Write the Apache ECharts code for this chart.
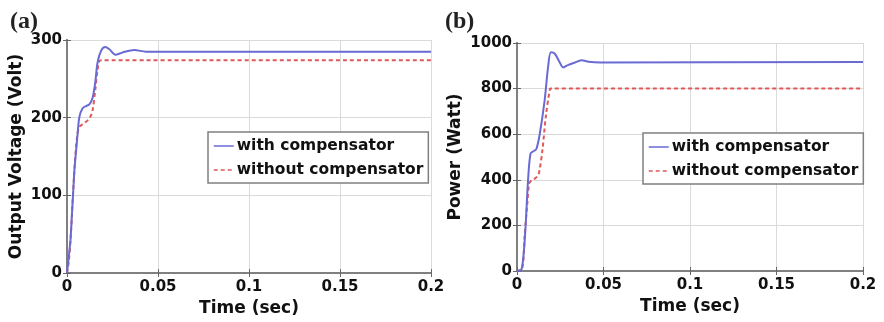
<!DOCTYPE html>
<html>
<head>
<meta charset="utf-8">
<script src="https://cdn.jsdelivr.net/npm/echarts@6/dist/echarts.min.js"></script>
<style>
  html, body { margin: 0; padding: 0; background: #fff; }
  #chart { width: 884px; height: 322px; }
</style>
</head>
<body>
<div id="chart"></div>
<script>
// panel (a): output voltage
const timeWithA = [0, 0.001, 0.002, 0.004, 0.0055, 0.0068, 0.0086, 0.0105, 0.0123, 0.0141, 0.0155, 0.0168, 0.0187, 0.021, 0.0233, 0.0266, 0.0306, 0.037, 0.0434, 0.054, 0.2];
const voltWithA = [0, 22, 45, 130, 170, 201, 212, 215, 217, 226, 245, 271, 286, 291, 288, 281, 284, 287, 285, 285, 285];
const timeWithoutA = [0, 0.001, 0.002, 0.004, 0.0055, 0.0068, 0.0095, 0.0123, 0.014, 0.0155, 0.0168, 0.0187, 0.2];
const voltWithoutA = [0, 15, 45, 130, 175, 188, 193, 199, 209, 235, 261, 274, 274];

// panel (b): power
const timeWithB = [0, 0.0025, 0.004, 0.005, 0.0064, 0.0078, 0.0095, 0.0112, 0.0132, 0.016, 0.018, 0.0196, 0.0219, 0.0244, 0.0267, 0.0297, 0.0326, 0.0374, 0.0413, 0.048, 0.2];
const powerWithB = [0, 5, 90, 200, 400, 515, 525, 535, 603, 750, 897, 959, 953, 919, 893, 904, 912, 924, 918, 915, 917];
const timeWithoutB = [0, 0.003, 0.0045, 0.006, 0.007, 0.0085, 0.0103, 0.0122, 0.013, 0.0147, 0.0167, 0.019, 0.0197, 0.2];
const powerWithoutB = [0, 10, 164, 300, 383, 398, 405, 420, 440, 530, 680, 797, 800, 800];

const seriesNames = ['with compensator', 'without compensator'];
const xTicks = [0, 0.05, 0.1, 0.15, 0.2];

const pairs = (xs, ys) => xs.map((x, i) => [x, ys[i]]);

const font = 'DejaVu Sans';
const boxColor = '#808080';
const blue = '#6a6ad4';
const red = '#e05858';

const bottomAxis = (gridIndex, name) => ({
  type: 'value',
  gridIndex,
  min: xTicks[0],
  max: xTicks[xTicks.length - 1],
  interval: 0.05,
  name,
  nameLocation: 'middle',
  nameGap: 26,
  nameTextStyle: { fontFamily: font, fontWeight: 'bold', fontSize: 17, color: '#111' },
  axisLine: { show: true, lineStyle: { color: boxColor, width: 2 } },
  axisTick: { show: true, inside: true, length: 4, lineStyle: { color: '#666' } },
  axisLabel: {
    fontFamily: font, fontWeight: 'bold', fontSize: 15, color: '#111', margin: 7,
    formatter: v => String(+v.toFixed(2))
  },
  splitLine: { show: true, lineStyle: { color: '#dadada', width: 1 } }
});

const topAxis = (gridIndex) => ({
  type: 'value',
  gridIndex,
  position: 'top',
  min: 0, max: 0.2, interval: 0.05,
  axisLine: { show: true, lineStyle: { color: boxColor, width: 2 } },
  axisTick: { show: true, inside: true, length: 4, lineStyle: { color: '#666' } },
  axisLabel: { show: false },
  splitLine: { show: false }
});

const leftAxis = (gridIndex, name, max, interval, gap) => ({
  type: 'value',
  gridIndex,
  min: 0, max, interval,
  name,
  nameLocation: 'middle',
  nameGap: gap,
  nameTextStyle: { fontFamily: font, fontWeight: 'bold', fontSize: 17, color: '#111' },
  axisLine: { show: true, lineStyle: { color: boxColor, width: 2 } },
  axisTick: { show: true, inside: true, length: 4, lineStyle: { color: '#666' } },
  axisLabel: {
    fontFamily: font, fontWeight: 'bold', fontSize: 15, color: '#111', margin: 5,
    formatter: v => String(v)
  },
  splitLine: { show: true, lineStyle: { color: '#dadada', width: 1 } }
});

const rightAxis = (gridIndex, max, interval) => ({
  type: 'value',
  gridIndex,
  position: 'right',
  min: 0, max, interval,
  axisLine: { show: true, lineStyle: { color: boxColor, width: 2 } },
  axisTick: { show: true, inside: true, length: 4, lineStyle: { color: '#666' } },
  axisLabel: { show: false },
  splitLine: { show: false }
});

const lineSeries = (name, data, xi, yi) => ({
  name,
  type: 'line',
  xAxisIndex: xi,
  yAxisIndex: yi,
  data,
  symbol: 'none',
  smooth: 0.3,
  animation: false,
  lineStyle: name === seriesNames[0]
    ? { color: blue, width: 2 }
    : { color: red, width: 2, type: [4, 3] },
  itemStyle: { color: name === seriesNames[0] ? blue : red }
});

const legendBox = (left, top) => ({
  data: seriesNames,
  orient: 'vertical',
  left, top,
  itemWidth: 20,
  itemHeight: 12,
  itemGap: 8,
  padding: [6, 5, 5, 5],
  backgroundColor: '#fff',
  borderColor: boxColor,
  borderWidth: 1.5,
  borderRadius: 0,
  itemStyle: { color: 'rgba(0,0,0,0)', borderWidth: 0, opacity: 0 },
  lineStyle: { width: 1.5 },
  textStyle: { fontFamily: font, fontWeight: 'bold', fontSize: 15.5, color: '#111', padding: [0, 0, 0, -2] }
});

const chart = echarts.init(document.getElementById('chart'));

const option = {
  animation: false,
  backgroundColor: '#fff',
  title: [
    { text: '(a)', left: 5, top: 5, textStyle: { fontFamily: 'Liberation Serif', fontWeight: 'bold', fontSize: 24, color: '#222' } },
    { text: '(b)', left: 440, top: 5, textStyle: { fontFamily: 'Liberation Serif', fontWeight: 'bold', fontSize: 24, color: '#222' } }
  ],
  grid: [
    { left: 67, top: 40, right: 453, bottom: 49 },
    { left: 517, top: 43, right: 21, bottom: 51 }
  ],
  xAxis: [
    bottomAxis(0, 'Time (sec)'),
    bottomAxis(1, 'Time (sec)'),
    topAxis(0),
    topAxis(1)
  ],
  yAxis: [
    leftAxis(0, 'Output Voltage (Volt)', 300, 100, 42),
    leftAxis(1, 'Power (Watt)', 1000, 200, 53),
    rightAxis(0, 300, 100),
    rightAxis(1, 1000, 200)
  ],
  legend: [
    legendBox(208, 132),
    legendBox(643, 133)
  ],
  series: [
    lineSeries(seriesNames[1], pairs(timeWithoutA, voltWithoutA), 0, 0),
    lineSeries(seriesNames[0], pairs(timeWithA, voltWithA), 0, 0),
    lineSeries(seriesNames[1], pairs(timeWithoutB, powerWithoutB), 1, 1),
    lineSeries(seriesNames[0], pairs(timeWithB, powerWithB), 1, 1)
  ]
};

chart.setOption(option);
window.addEventListener('resize', () => chart.resize());
</script>
</body>
</html>
